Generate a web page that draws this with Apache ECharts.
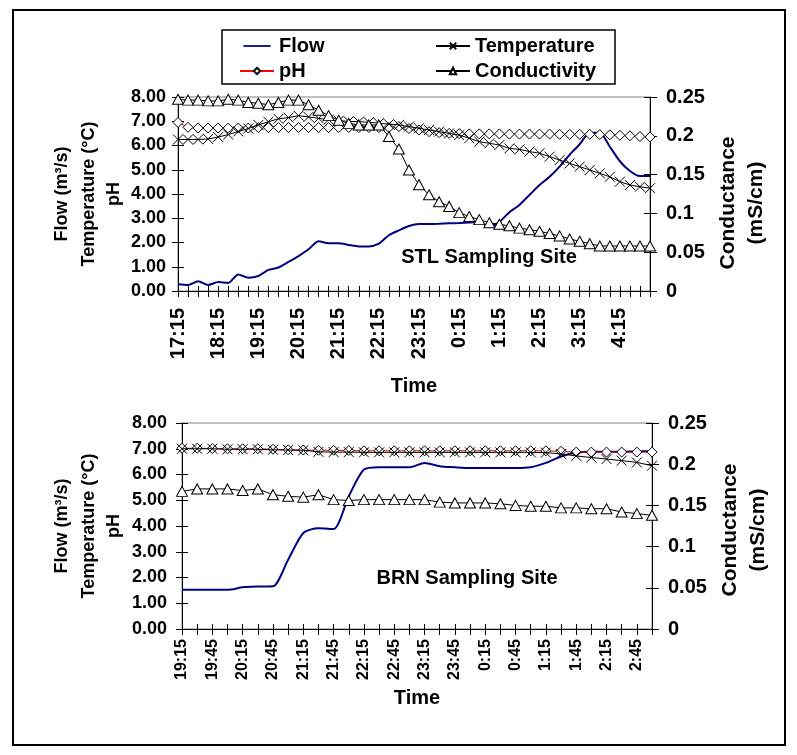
<!DOCTYPE html>
<html><head><meta charset="utf-8">
<script src="https://cdn.jsdelivr.net/npm/echarts@6/dist/echarts.min.js"></script>
<style>html,body{margin:0;padding:0;background:#fff}#c{width:797px;height:755px}</style>
</head><body><div id="c"></div>
<script>
// ---------- DATA ----------
const stlTimes = ['17:15','17:30','17:45','18:00','18:15','18:30','18:45','19:00','19:15','19:30','19:45','20:00','20:15','20:30','20:45','21:00','21:15','21:30','21:45','22:00','22:15','22:30','22:45','23:00','23:15','23:30','23:45','0:00','0:15','0:30','0:45','1:00','1:15','1:30','1:45','2:00','2:15','2:30','2:45','3:00','3:15','3:30','3:45','4:00','4:15','4:30','4:45','5:00'];
const stlFlow = [0.28,0.25,0.40,0.25,0.37,0.33,0.68,0.55,0.62,0.87,0.97,1.20,1.44,1.72,2.05,1.97,1.97,1.90,1.84,1.84,1.95,2.30,2.50,2.68,2.76,2.76,2.77,2.79,2.80,2.82,2.86,2.65,2.85,3.25,3.55,3.96,4.37,4.71,5.13,5.62,6.05,6.53,6.53,5.95,5.35,4.95,4.74,4.74];
const stlPH = [6.95,6.75,6.72,6.72,6.72,6.72,6.72,6.72,6.74,6.74,6.74,6.74,6.74,6.74,6.74,6.74,6.74,6.74,6.74,6.74,6.74,6.74,6.78,6.70,6.64,6.57,6.53,6.50,6.49,6.48,6.48,6.48,6.48,6.47,6.47,6.47,6.47,6.47,6.46,6.46,6.46,6.46,6.45,6.44,6.42,6.40,6.37,6.35];
const stlTemp = [6.25,6.25,6.25,6.27,6.35,6.45,6.58,6.70,6.85,6.98,7.10,7.15,7.23,7.18,7.12,7.06,7.02,7.00,6.98,6.96,6.92,6.88,6.85,6.78,6.71,6.64,6.57,6.50,6.43,6.30,6.16,6.09,6.02,5.88,5.84,5.75,5.68,5.54,5.40,5.26,5.13,4.99,4.85,4.71,4.51,4.37,4.30,4.24];
const stlCond = [0.247,0.246,0.246,0.245,0.245,0.247,0.246,0.243,0.242,0.240,0.243,0.246,0.246,0.240,0.233,0.226,0.220,0.216,0.214,0.214,0.214,0.199,0.183,0.156,0.137,0.124,0.115,0.109,0.101,0.096,0.092,0.088,0.086,0.084,0.081,0.079,0.077,0.074,0.071,0.067,0.064,0.061,0.058,0.058,0.058,0.058,0.058,0.058];

const brnTimes = ['19:15','19:30','19:45','20:00','20:15','20:30','20:45','21:00','21:15','21:30','21:45','22:00','22:15','22:30','22:45','23:00','23:15','23:30','23:45','0:00','0:15','0:30','0:45','1:00','1:15','1:30','1:45','2:00','2:15','2:30','2:45','3:00'];
const brnFlow = [1.52,1.52,1.52,1.52,1.62,1.65,1.66,2.69,3.73,3.91,3.88,5.15,6.19,6.28,6.28,6.28,6.45,6.32,6.28,6.25,6.25,6.25,6.25,6.28,6.45,6.70,6.85,6.88,6.88,6.88,6.90,6.90];
const brnPH = [7.02,7.02,7.01,7.00,7.00,7.00,6.98,6.96,6.95,6.94,6.94,6.93,6.92,6.92,6.92,6.92,6.92,6.92,6.92,6.92,6.92,6.92,6.92,6.92,6.92,6.90,6.87,6.87,6.87,6.87,6.87,6.87];
const brnTemp = [7.00,7.00,7.00,6.98,6.98,6.98,6.96,6.95,6.94,6.88,6.87,6.87,6.86,6.86,6.86,6.86,6.86,6.86,6.86,6.86,6.86,6.86,6.86,6.86,6.85,6.80,6.72,6.66,6.60,6.54,6.47,6.34];
const brnCond = [0.167,0.170,0.170,0.170,0.168,0.170,0.163,0.161,0.160,0.163,0.157,0.156,0.157,0.157,0.157,0.157,0.157,0.154,0.153,0.153,0.153,0.152,0.150,0.149,0.149,0.147,0.147,0.146,0.146,0.142,0.140,0.138];

const leftTicks = {min:0, max:8, interval:1};
const rightTicks = {min:0, max:0.25, interval:0.05};

// ---------- CHART ----------
const FONT = "'Liberation Sans', Arial, Helvetica, sans-serif";
const chart = echarts.init(document.getElementById('c'), null, {renderer:'canvas'});
const xSym = 'path://M0,0L10,10M10,0L0,10';
const lineIcon = 'path://M0,0M0,3.9L34,3.9L34,6.1L0,6.1ZM34,10';

function xAxisPair(grid, data, labelInterval, fontSize, margin) {
  return [
    {type:'category', gridIndex:grid, data:data, boundaryGap:false, position:'bottom',
     axisLine:{show:true, onZero:false, lineStyle:{color:'#000', width:1}},
     axisTick:{show:true, interval:0, length:6, lineStyle:{color:'#000'}},
     axisLabel:{show:true, interval:labelInterval, rotate:90, margin:margin, color:'#000',
                fontSize:fontSize, fontWeight:'bold', fontFamily:FONT},
     splitLine:{show:false}},
    {type:'category', gridIndex:grid, data:data, boundaryGap:false, position:'bottom',
     axisLine:{show:false, onZero:false}, axisLabel:{show:false},
     axisTick:{show:true, inside:true, interval:0, length:5, lineStyle:{color:'#000'}},
     splitLine:{show:false}}
  ];
}
function yAxes(grid, lm, rm) {
  const lbl = {color:'#000', fontWeight:'bold', fontFamily:FONT};
  return [
    Object.assign({type:'value', gridIndex:grid, position:'left',
      axisLine:{show:true, lineStyle:{color:'#000', width:1}},
      axisTick:{show:true, length:6, lineStyle:{color:'#000'}},
      axisLabel:Object.assign({margin:lm, fontSize:18, formatter:v=>v.toFixed(2)}, lbl),
      splitLine:{show:false}}, leftTicks),
    Object.assign({type:'value', gridIndex:grid, position:'right',
      axisLine:{show:true, lineStyle:{color:'#000', width:1}},
      axisTick:{show:true, length:7, lineStyle:{color:'#000'}},
      axisLabel:Object.assign({margin:rm, fontSize:20, formatter:v=>String(+v.toFixed(2))}, lbl),
      splitLine:{show:false}}, rightTicks),
    Object.assign({type:'value', gridIndex:grid, position:'left',
      axisLine:{show:false}, axisLabel:{show:false},
      axisTick:{show:true, inside:true, length:6, lineStyle:{color:'#000'}},
      splitLine:{show:false}}, leftTicks),
    Object.assign({type:'value', gridIndex:grid, position:'right',
      axisLine:{show:false}, axisLabel:{show:false},
      axisTick:{show:true, inside:true, length:6, lineStyle:{color:'#000'}},
      splitLine:{show:false}}, rightTicks)
  ];
}
function seriesFor(xi, yi, flow, ph, temp, cond) {
  return [
    {name:'Flow', type:'line', xAxisIndex:xi, yAxisIndex:yi, data:flow, symbol:'none', smooth:0.25,
     lineStyle:{color:'#000080', width:2}, itemStyle:{color:'#000080'}, z:2},
    {name:'pH', type:'line', xAxisIndex:xi, yAxisIndex:yi, data:ph, symbol:'diamond', symbolSize:10, showAllSymbol:true,
     lineStyle:{color:'#ff0000', width:1}, itemStyle:{color:'#ffffff', borderColor:'#000', borderWidth:1}, z:3},
    {name:'Temperature', type:'line', xAxisIndex:xi, yAxisIndex:yi, data:temp, symbol:xSym, symbolSize:10, showAllSymbol:true,
     lineStyle:{color:'#000', width:1}, itemStyle:{color:'#000', borderColor:'#000', borderWidth:1}, z:4},
    {name:'Conductivity', type:'line', xAxisIndex:xi, yAxisIndex:yi+1, data:cond, symbol:'triangle', symbolSize:[11,10], showAllSymbol:true,
     lineStyle:{color:'#000', width:1}, itemStyle:{color:'#ffffff', borderColor:'#000', borderWidth:1}, z:5}
  ];
}
function vtext(x, y, text, size) {
  return {type:'text', x:x, y:y, rotation:Math.PI/2, z:10,
    style:{text:text, fill:'#000', fontSize:size, fontWeight:'bold', fontFamily:FONT, align:'center', verticalAlign:'middle'}};
}
function htext(x, y, text, size) {
  return {type:'text', x:x, y:y, z:10,
    style:{text:text, fill:'#000', fontSize:size, fontWeight:'bold', fontFamily:FONT, align:'center', verticalAlign:'middle'}};
}
const legendCommon = {orient:'vertical', top:36, itemWidth:34, itemHeight:8, itemGap:5, padding:0,
  selectedMode:false, textStyle:{color:'#000', fontSize:20, fontWeight:'bold', fontFamily:FONT}};

const option = {
  backgroundColor:'#fff',
  animation:false,
  legend:[
    Object.assign({left:239, data:[{name:'Flow', icon:lineIcon}, 'pH']}, legendCommon),
    Object.assign({left:435, data:['Temperature','Conductivity']}, legendCommon)
  ],
  grid:[
    {left:178, top:97, width:472, height:194, show:true, borderColor:'#808080', borderWidth:1, backgroundColor:'transparent'},
    {left:182, top:423, width:470, height:206, show:true, borderColor:'#808080', borderWidth:1, backgroundColor:'transparent'}
  ],
  xAxis:[].concat(xAxisPair(0, stlTimes, 3, 20, 17), xAxisPair(1, brnTimes, 1, 16, 10)),
  yAxis:[].concat(yAxes(0, 12, 16), yAxes(1, 15, 16)),
  series:[].concat(seriesFor(0, 0, stlFlow, stlPH, stlTemp, stlCond), seriesFor(2, 4, brnFlow, brnPH, brnTemp, brnCond)),
  graphic:[
    {type:'rect', shape:{x:13, y:10, width:772, height:735}, style:{fill:'none', stroke:'#000', lineWidth:2}, z:0},
    {type:'rect', shape:{x:222, y:30, width:393, height:54}, style:{fill:'none', stroke:'#000', lineWidth:1.5}, z:0},
    vtext(62, 194, 'Flow (m³/s)', 18),
    vtext(89, 194, 'Temperature (°C)', 18),
    vtext(114, 194, 'pH', 18),
    vtext(728, 203, 'Conductance', 21),
    vtext(756, 203, '(mS/cm)', 21),
    htext(414, 386, 'Time', 20),
    htext(489, 257, 'STL Sampling Site', 20),
    vtext(62, 526, 'Flow (m³/s)', 18),
    vtext(89, 526, 'Temperature (°C)', 18),
    vtext(114, 526, 'pH', 18),
    vtext(730, 530, 'Conductance', 21),
    vtext(758, 530, '(mS/cm)', 21),
    htext(417, 698, 'Time', 20),
    htext(467, 578, 'BRN Sampling Site', 20)
  ]
};
chart.setOption(option);
</script>
</body></html>
